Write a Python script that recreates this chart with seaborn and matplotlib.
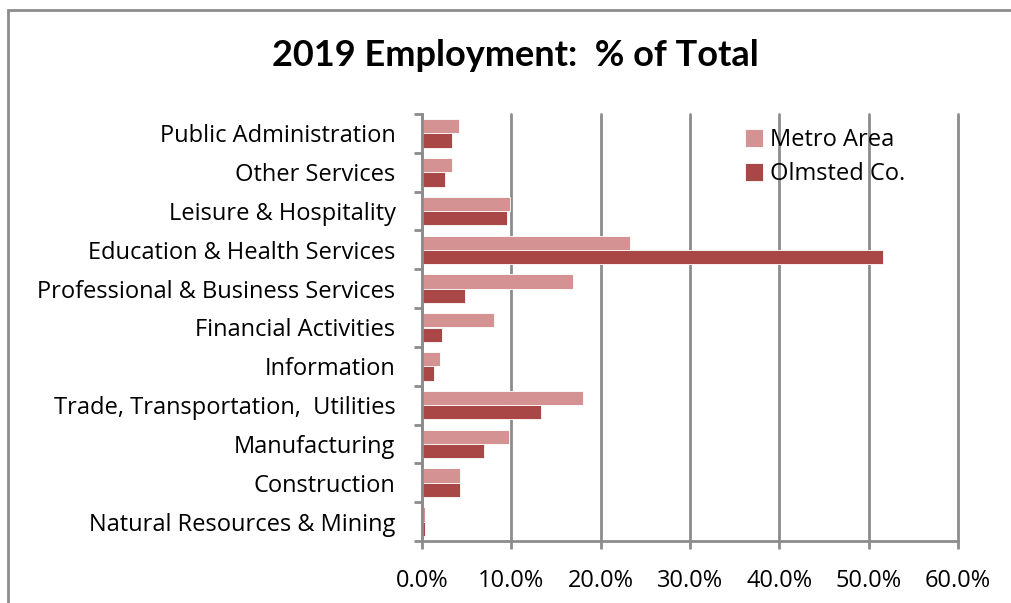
import pandas as pd
import matplotlib.pyplot as plt
import seaborn as sns
from matplotlib.patches import Rectangle
from matplotlib.ticker import PercentFormatter

CORES = ["#D49392", "#A94746"]
CINZA = "#8C8C8C"

setores = ["Public Administration", "Other Services", "Leisure & Hospitality",
           "Education & Health Services", "Professional & Business Services",
           "Financial Activities", "Information", "Trade, Transportation,  Utilities",
           "Manufacturing", "Construction", "Natural Resources & Mining"]
metro = [4.1, 3.35, 9.9, 23.3, 16.85, 8.1, 2.0, 18.0, 9.7, 4.3, 0.3]
olmsted = [3.4, 2.6, 9.5, 51.6, 4.8, 2.2, 1.3, 13.3, 6.9, 4.3, 0.3]
series = ["Metro Area", "Olmsted Co."]

df = pd.DataFrame({
    "setor": setores * 2,
    "valor": metro + olmsted,
    "serie": [series[0]] * len(setores) + [series[1]] * len(setores),
})

sns.set_style("white")
plt.rcParams["font.family"] = ["Open Sans", "DejaVu Sans"]
plt.rcParams["text.color"] = "black"

TAM = 17

fig = plt.figure(figsize=(10.11, 6.03), dpi=100)
ax = fig.add_axes([422 / 1011, 1 - 541 / 603, 536 / 1011, 427 / 603])

sns.barplot(data=df, x="valor", y="setor", hue="serie", order=setores, hue_order=series,
            palette=CORES, width=0.74, gap=0, orient="h", ax=ax, saturation=1,
            edgecolor="white", linewidth=0.6)

ax.set_xlim(0, 60)
ax.set_ylim(len(setores) - 0.5, -0.5)
ax.set_xticks(range(0, 61, 10))
ax.xaxis.set_major_formatter(PercentFormatter(decimals=1))
ax.grid(axis="x", color=CINZA, lw=2)
for linha in ax.get_xgridlines():
    linha.set_clip_on(False)
ax.set_axisbelow(True)
ax.set_xlabel("")
ax.set_ylabel("")

# ticks entre categorias (estilo Excel)
ax.set_yticks([i - 0.5 for i in range(len(setores) + 1)], minor=True)
ax.tick_params(axis="y", which="major", length=0, pad=19, labelsize=TAM, labelcolor="black")
ax.tick_params(axis="y", which="minor", length=6, width=2, color=CINZA, left=True)
ax.tick_params(axis="x", which="major", length=6, width=2, color=CINZA, bottom=True,
               pad=14, labelsize=TAM, labelcolor="black")

for lado in ["top", "right"]:
    ax.spines[lado].set_visible(False)
for lado in ["left", "bottom"]:
    ax.spines[lado].set_color(CINZA)
    ax.spines[lado].set_linewidth(2)

ax.legend(loc="upper left", bbox_to_anchor=(724 / 1011, 1 - 107 / 603),
          bbox_transform=fig.transFigure, frameon=False, fontsize=TAM,
          handlelength=0.75, handleheight=0.75, handletextpad=0.3, labelspacing=0.42)

fig.text(515 / 1011, 1 - 55 / 603, "2019 Employment:  % of Total", ha="center", va="center",
         fontsize=26, fontweight="bold", family=["Lato", "DejaVu Sans"])

fig.patches.append(Rectangle((8 / 1011, -0.2), 1.2, 1.2 - 10 / 603, transform=fig.transFigure,
                             fill=False, ec=CINZA, lw=2, figure=fig))

fig.savefig("out.png", dpi=100)
plt.close()
